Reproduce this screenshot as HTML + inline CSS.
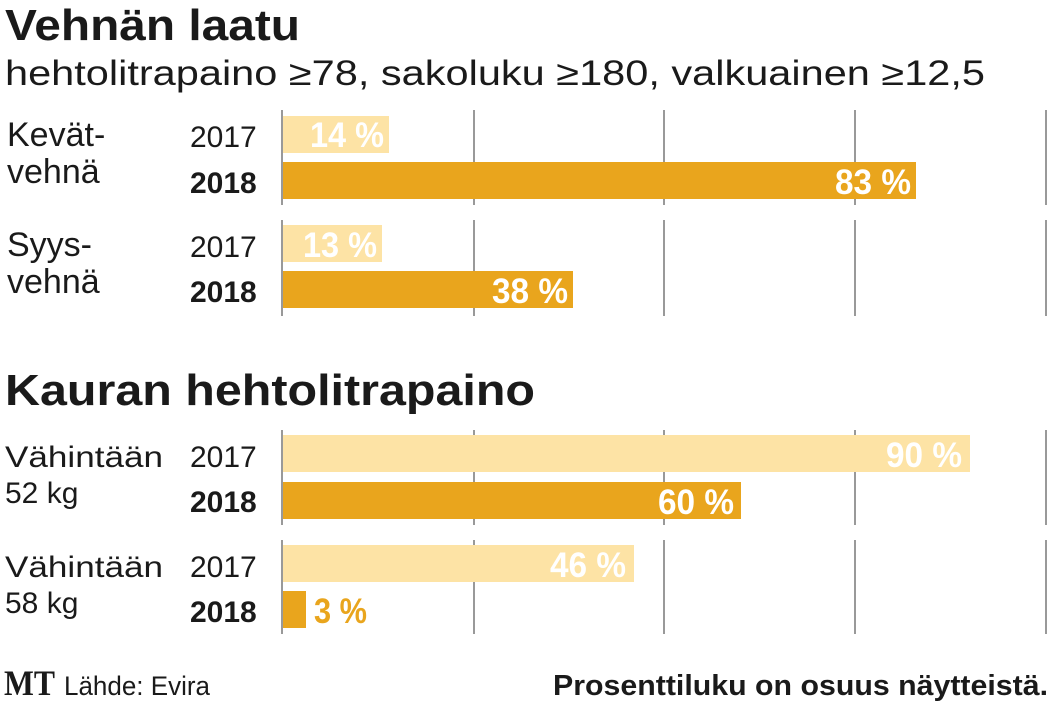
<!DOCTYPE html>
<html><head><meta charset="utf-8"><style>html,body{margin:0;padding:0;background:#fff;}svg{display:block}</style></head>
<body>
<svg width="1050" height="702" xmlns="http://www.w3.org/2000/svg" font-family="Liberation Sans, sans-serif">
<rect width="1050" height="702" fill="#fff"/>
<text x="5" y="40" font-size="44" font-weight="bold" fill="#1a1a1a" textLength="295" lengthAdjust="spacingAndGlyphs">Vehnän laatu</text>
<text x="5" y="85" font-size="35" fill="#1a1a1a" textLength="980" lengthAdjust="spacingAndGlyphs">hehtolitrapaino ≥78, sakoluku ≥180, valkuainen ≥12,5</text>
<g stroke="#555" stroke-width="1.2">
<line x1="282" y1="110" x2="282" y2="205"/><line x1="474" y1="110" x2="474" y2="205"/><line x1="664" y1="110" x2="664" y2="205"/><line x1="855" y1="110" x2="855" y2="205"/><line x1="1046" y1="110" x2="1046" y2="205"/>
<line x1="282" y1="220" x2="282" y2="316"/><line x1="474" y1="220" x2="474" y2="316"/><line x1="664" y1="220" x2="664" y2="316"/><line x1="855" y1="220" x2="855" y2="316"/><line x1="1046" y1="220" x2="1046" y2="316"/>
<line x1="282" y1="430" x2="282" y2="525"/><line x1="474" y1="430" x2="474" y2="525"/><line x1="664" y1="430" x2="664" y2="525"/><line x1="855" y1="430" x2="855" y2="525"/><line x1="1046" y1="430" x2="1046" y2="525"/>
<line x1="282" y1="540" x2="282" y2="634"/><line x1="474" y1="540" x2="474" y2="634"/><line x1="664" y1="540" x2="664" y2="634"/><line x1="855" y1="540" x2="855" y2="634"/><line x1="1046" y1="540" x2="1046" y2="634"/>
</g>
<g fill="#fde3a5">
<rect x="283" y="116" width="106" height="37"/>
<rect x="283" y="225" width="99" height="37"/>
<rect x="283" y="435" width="687" height="37"/>
<rect x="283" y="545" width="351" height="37"/>
</g>
<g fill="#e9a51d">
<rect x="283" y="162" width="633" height="37"/>
<rect x="283" y="271" width="290" height="37"/>
<rect x="283" y="482" width="458" height="37"/>
<rect x="283" y="591" width="23" height="37"/>
</g>
<g font-size="35" font-weight="bold" fill="#fff" text-anchor="end">
<text x="384" y="147" textLength="74" lengthAdjust="spacingAndGlyphs">14 %</text>
<text x="911" y="194" textLength="76" lengthAdjust="spacingAndGlyphs">83 %</text>
<text x="377" y="257" textLength="74" lengthAdjust="spacingAndGlyphs">13 %</text>
<text x="568" y="303" textLength="76" lengthAdjust="spacingAndGlyphs">38 %</text>
<text x="962" y="467" textLength="76" lengthAdjust="spacingAndGlyphs">90 %</text>
<text x="734" y="514" textLength="76" lengthAdjust="spacingAndGlyphs">60 %</text>
<text x="626" y="577" textLength="76" lengthAdjust="spacingAndGlyphs">46 %</text>
</g>
<text x="314" y="623" font-size="35" font-weight="bold" fill="#e9a51d" textLength="53" lengthAdjust="spacingAndGlyphs">3 %</text>
<g font-size="30" fill="#1a1a1a">
<text x="190" y="147">2017</text>
<text x="190" y="257">2017</text>
<text x="190" y="467">2017</text>
<text x="190" y="577">2017</text>
<text x="190" y="193" font-weight="bold">2018</text>
<text x="190" y="302" font-weight="bold">2018</text>
<text x="190" y="512" font-weight="bold">2018</text>
<text x="190" y="622" font-weight="bold">2018</text>
<text x="5" y="467" textLength="158" lengthAdjust="spacingAndGlyphs">Vähintään</text>
<text x="5" y="503">52 kg</text>
<text x="5" y="577" textLength="158" lengthAdjust="spacingAndGlyphs">Vähintään</text>
<text x="5" y="613">58 kg</text>
</g>
<g font-size="34" fill="#1a1a1a">
<text x="7" y="146">Kevät-</text>
<text x="7" y="183">vehnä</text>
<text x="7" y="256">Syys-</text>
<text x="7" y="293">vehnä</text>
</g>
<text x="5" y="405" font-size="44" font-weight="bold" fill="#1a1a1a" textLength="530" lengthAdjust="spacingAndGlyphs">Kauran hehtolitrapaino</text>
<text x="4" y="695" font-family="Liberation Serif, serif" font-size="36" font-weight="bold" fill="#1a1a1a" textLength="51" lengthAdjust="spacingAndGlyphs">MT</text>
<text x="64" y="695" font-size="27" fill="#1a1a1a" textLength="146" lengthAdjust="spacingAndGlyphs">Lähde: Evira</text>
<text x="553" y="695" font-size="29" font-weight="bold" fill="#1a1a1a" textLength="495" lengthAdjust="spacingAndGlyphs">Prosenttiluku on osuus näytteistä.</text>
</svg>
</body></html>
